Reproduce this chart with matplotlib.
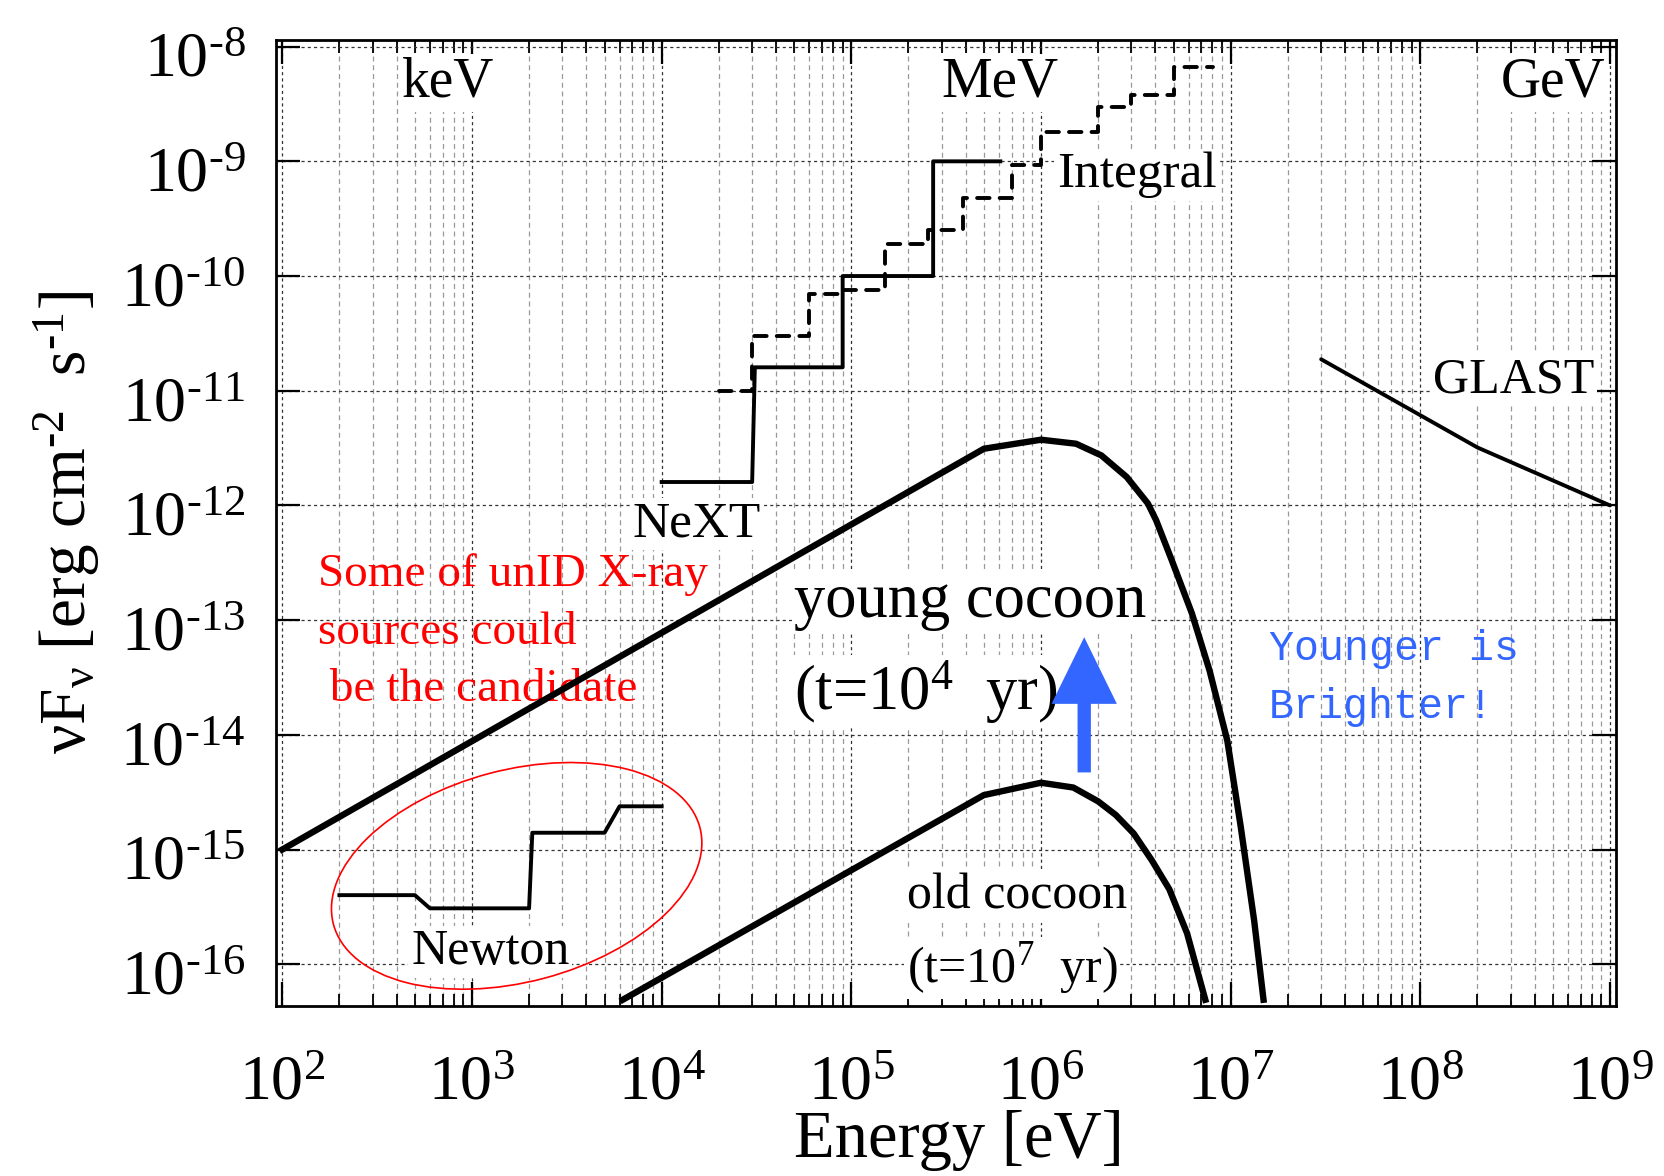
import numpy as np
import matplotlib
matplotlib.use('Agg')
import matplotlib.pyplot as plt
from matplotlib.patches import Ellipse
from matplotlib.transforms import IdentityTransform, ScaledTranslation
from matplotlib.ticker import FixedLocator, FuncFormatter, NullLocator

plt.rcParams['font.family'] = ['Liberation Serif', 'DejaVu Serif']
plt.rcParams['mathtext.fontset'] = 'custom'
plt.rcParams['mathtext.rm'] = 'Liberation Serif'
plt.rcParams['mathtext.it'] = 'Liberation Serif:italic'
plt.rcParams['mathtext.bf'] = 'Liberation Serif:bold'

# young cocoon (t = 1e4 yr)
young_E = [1e2, 5.0e5, 1.0e6, 1.53e6, 2.08e6, 2.83e6, 3.66e6, 4.05e6,
           4.89e6, 6.24e6, 7.74e6, 9.6e6, 1.13e7, 1.33e7, 1.49e7]
young_F = [1e-15, 3.12e-12, 3.74e-12, 3.45e-12, 2.73e-12, 1.77e-12, 1.04e-12, 7.4e-13,
           3.33e-13, 1.15e-13, 3.63e-14, 8.9e-15, 1.58e-15, 2.4e-16, 4.9e-17]

# old cocoon (t = 1e7 yr)
old_E = [6.24e3, 4.99e5, 1.0e6, 1.48e6, 2.0e6, 2.48e6, 3.08e6, 3.83e6, 4.75e6, 5.89e6, 7.35e6]
old_F = [4.9e-17, 2.98e-15, 3.82e-15, 3.47e-15, 2.63e-15, 2.0e-15, 1.38e-15, 8.1e-16,
         4.5e-16, 1.86e-16, 4.9e-17]

# NeXT sensitivity
next_E = [1e4, 3.0e4, 3.1e4, 9.0e4, 9.0e4, 2.7e5, 2.7e5, 6.1e5]
next_F = [1.6e-12, 1.6e-12, 1.6e-11, 1.6e-11, 1e-10, 1e-10, 1e-9, 1e-9]

# INTEGRAL sensitivity
integral_E = [2e4, 3e4, 3e4, 6e4, 6e4, 9e4, 9e4, 1.5e5, 1.5e5, 2.55e5, 2.55e5, 3.9e5, 3.9e5,
              7.0e5, 7.0e5, 1.0e6, 1.0e6, 2.0e6, 2.0e6, 3.0e6, 3.0e6, 5.0e6, 5.0e6, 8.1e6]
integral_F = [1e-11, 1e-11, 3.0e-11, 3.0e-11, 7.0e-11, 7.0e-11, 7.5e-11, 7.5e-11, 1.9e-10, 1.9e-10,
              2.5e-10, 2.5e-10, 4.8e-10, 4.8e-10, 9.3e-10, 9.3e-10, 1.8e-9, 1.8e-9, 3.0e-9, 3.0e-9,
              3.8e-9, 3.8e-9, 6.7e-9, 6.7e-9]

# XMM-Newton sensitivity
newton_E = [200, 500, 600, 2000, 2080, 5000, 6000, 1e4]
newton_F = [4.0e-16, 4.0e-16, 3.07e-16, 3.07e-16, 1.4e-15, 1.4e-15, 2.38e-15, 2.38e-15]

# GLAST sensitivity
glast_E = [3e7, 2e8, 1e9]
glast_F = [1.88e-11, 3.2e-12, 1e-12]

# axis ticks
x_major = [1e2, 1e3, 1e4, 1e5, 1e6, 1e7, 1e8, 1e9]
y_major = [1e-16, 1e-15, 1e-14, 1e-13, 1e-12, 1e-11, 1e-10, 1e-9, 1e-8]

# labels: text, x, y, ha, size
black_labels = [
    ('keV', 10**2.873, 10**-8.315, 'center', 40),
    ('MeV', 10**5.783, 10**-8.315, 'center', 41),
    ('GeV', 10**8.975, 10**-8.315, 'right', 40),
    ('Integral', 10**6.084, 10**-9.119, 'left', 37),
    ('GLAST', 10**8.066, 10**-10.906, 'left', 36),
    ('NeXT', 10**3.845, 10**-12.163, 'left', 37),
    ('young cocoon', 10**4.70, 10**-12.839, 'left', 45),
    ('(t=10$^{4}$  yr)', 10**4.70, 10**-13.625, 'left', 45),
    ('Newton', 10**3.096, 10**-15.892, 'center', 36),
    ('old cocoon', 10**5.291, 10**-15.411, 'left', 36),
    ('(t=10$^{7}$  yr)', 10**5.291, 10**-16.03, 'left', 36),
]
red_lines = ['Some of unID X-ray', 'sources could', ' be the candidate']
red_y = [10**-12.60, 10**-13.107, 10**-13.607]
blue_lines = ['Younger is', 'Brighter!']
blue_y = [10**-13.255, 10**-13.755]


def pow10(v, pos):
    e = int(round(np.log10(v)))
    s = str(e).replace('-', r'\text{-}')
    return r'$\mathdefault{10^{%s}}$' % s


fig = plt.figure(figsize=(16.64, 11.76), dpi=100)
ax = fig.add_axes([0.1659, 0.1446, 0.8053, 0.8214])
ax.set_xscale('log')
ax.set_yscale('log')
ax.set_xlim(10**1.967, 10**9.032)
ax.set_ylim(10**-16.364, 10**-7.942)

x_minor = [m * d for d in x_major[:-1] for m in range(2, 10)]
ax.xaxis.set_major_locator(FixedLocator(x_major))
ax.xaxis.set_minor_locator(FixedLocator(x_minor))
ax.yaxis.set_major_locator(FixedLocator(y_major))
ax.yaxis.set_minor_locator(NullLocator())
ax.xaxis.set_major_formatter(FuncFormatter(pow10))
ax.yaxis.set_major_formatter(FuncFormatter(pow10))

ax.set_axisbelow(True)
ax.grid(which='major', axis='both', color='#333333', lw=0.9, ls=(0, (2.5, 2.5)))
ax.grid(which='minor', axis='x', color='#999999', lw=0.9, ls=(0, (4, 3)))

ax.tick_params(which='both', direction='in', top=True, right=True)
ax.tick_params(which='major', length=17, width=1.6, labelsize=46)
ax.tick_params(which='minor', length=9, width=1.3)
ax.tick_params(axis='x', which='major', pad=36)
ax.tick_params(axis='y', which='major', pad=22)
for s in ax.spines.values():
    s.set_linewidth(2)

# gnuplot puts the y tick labels a little below the grid line
for lab in ax.get_yticklabels():
    lab.set_transform(lab.get_transform() + ScaledTranslation(0, -6 / 72, fig.dpi_scale_trans))

ax.plot(young_E, young_F, color='k', lw=4.6, zorder=4, solid_joinstyle='round')
ax.plot(old_E, old_F, color='k', lw=4.6, zorder=4, solid_joinstyle='round')
ax.plot(next_E, next_F, color='k', lw=2.8, zorder=4)
ax.plot(integral_E, integral_F, color='k', lw=2.8, ls=(0, (3.2, 2.6)), dash_capstyle='round', zorder=4)
ax.plot(newton_E, newton_F, color='k', lw=2.8, zorder=4)
ax.plot(glast_E, glast_F, color='k', lw=2.8, zorder=4, solid_capstyle='round')

for txt, x, y, ha, fs in black_labels:
    ax.text(x, y, txt, ha=ha, va='center', fontsize=fs, zorder=3,
            bbox=dict(facecolor='white', edgecolor='none', pad=2))

for txt, y in zip(red_lines, red_y):
    ax.text(10**2.19, y, txt, ha='left', va='center', fontsize=34, color='red', zorder=3)

for txt, y in zip(blue_lines, blue_y):
    ax.text(10**7.202, y, txt, ha='left', va='center', fontsize=30, color='#3366ff',
            family='Liberation Mono', zorder=3)

# arrow: old -> young
ax.annotate('', xy=(1.69e6, 7.1e-14), xytext=(1.69e6, 4.7e-15),
            arrowprops=dict(arrowstyle='simple,head_length=1.0,head_width=0.98,tail_width=0.2',
                            mutation_scale=48, color='#3366ff', lw=0, shrinkA=0, shrinkB=0),
            zorder=5)

# red ellipse around the Newton curve
cx, cy = ax.transData.transform((1.72e3, 5.89e-16))
ax.add_patch(Ellipse((cx, cy), 379, 212, angle=14.8, transform=IdentityTransform(),
                     fill=False, edgecolor='red', lw=1.2, zorder=5))

fig.text(0.0397, 0.556, r'$\mathrm{\nu F_{\nu}}$ [erg cm$^{\text{-}2}$  s$^{\text{-}1}$]',
         rotation=90, ha='center', va='center', fontsize=47)
fig.text(0.576, 0.030, 'Energy [eV]', ha='center', va='center', fontsize=48)

fig.savefig('out.png', dpi=100)
